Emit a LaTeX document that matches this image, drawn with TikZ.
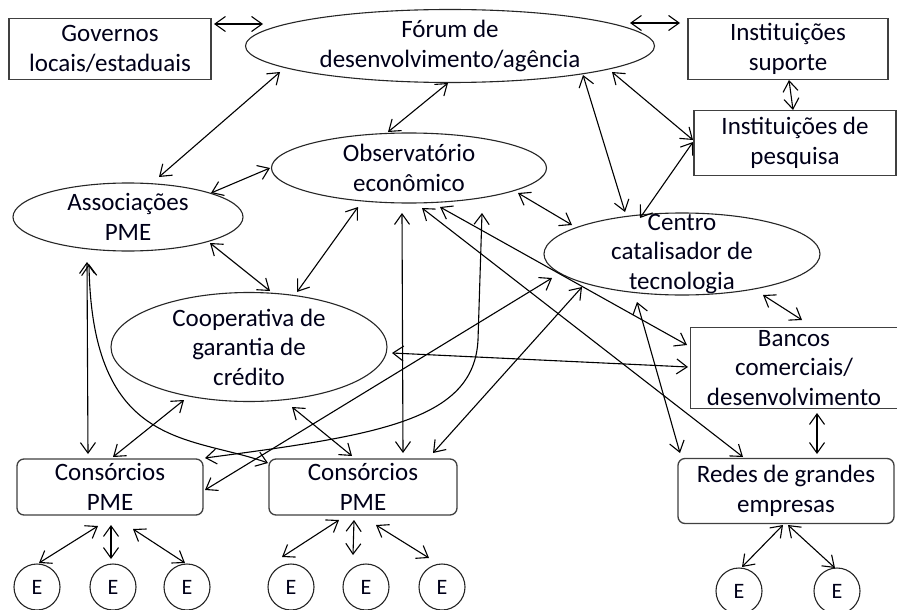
\documentclass[tikz,border=0pt]{standalone}
\usepackage{fontspec}
\setmainfont{Carlito}
\usetikzlibrary{shapes.geometric,arrows.meta}
\begin{document}
\begin{tikzpicture}[x=1pt,y=-1pt,
  lbl/.style={font=\fontsize{25}{29.5}\selectfont, align=center, inner sep=0pt, text=black!90!blue},
  ell/.style={draw=black!85, line width=1.1pt, ellipse, inner sep=0pt},
  box/.style={draw=black!75, line width=1.6pt, rectangle, inner sep=0pt},
  rbox/.style={draw=black!75, line width=1.3pt, rectangle, rounded corners=7pt, inner sep=0pt},
  ecirc/.style={draw=black!85, line width=1.1pt, circle, minimum size=46pt, inner sep=0pt, font=\fontsize{22}{26}\selectfont, text=black!90!blue},
  tip/.tip={Straight Barb[length=10.5pt,width=15pt]},
  link/.style={line width=1.1pt, tip-tip},
]
\fill[white] (0,0) rectangle (897,610);
\useasboundingbox (0,0) rectangle (897,610);

% nodes
\node[box, minimum width=202pt, minimum height=61pt, label={[lbl]center:Governos\\locais/estaduais}] (gov) at (110,49) {};
\node[ell, minimum width=409pt, minimum height=73pt, label={[lbl]center:Fórum de\\desenvolvimento/agência}] (forum) at (450,46) {};
\node[box, minimum width=200pt, minimum height=61pt, label={[lbl]center:Instituições\\suporte}] (sup) at (788,49) {};
\node[box, minimum width=202pt, minimum height=65pt, label={[lbl]center:Instituições de\\pesquisa}] (pesq) at (795,143) {};
\node[ell, minimum width=275pt, minimum height=70pt, label={[lbl]center:Observatório\\econômico}] (obs) at (409,168) {};
\node[ell, minimum width=230pt, minimum height=68pt, label={[lbl]center:Associações\\PME}] (assoc) at (128,217) {};
\node[ell, minimum width=276pt, minimum height=82pt, label={[lbl]center:Centro\\catalisador de\\tecnologia}] (centro) at (682,254) {};
\node[ell, minimum width=276pt, minimum height=109pt, label={[lbl]center:Cooperativa de\\garantia de\\crédito}] (coop) at (249,347) {};
\node[box, minimum width=207pt, minimum height=81pt, label={[lbl]center:Bancos\\comerciais/\\desenvolvimento}] (bancos) at (794,368) {};
\node[rbox, minimum width=186pt, minimum height=56pt, label={[lbl]center:Consórcios\\PME}] (cons1) at (110,487) {};
\node[rbox, minimum width=188pt, minimum height=56pt, label={[lbl]center:Consórcios\\PME}] (cons2) at (363,487) {};
\node[rbox, minimum width=216pt, minimum height=65pt, label={[lbl]center:Redes de grandes\\empresas}] (redes) at (786,491) {};
\node[ecirc] (e1) at (37,587) {E};
\node[ecirc] (e2) at (113,587) {E};
\node[ecirc] (e3) at (187,587) {E};
\node[ecirc] (e4) at (291,587) {E};
\node[ecirc] (e5) at (366,587) {E};
\node[ecirc] (e6) at (442,587) {E};
\node[ecirc] (e7) at (739,591) {E};
\node[ecirc] (e8) at (837,591) {E};

% connectors
\draw[link] ([shift={(104,-25)}]gov.center) -- ([shift={(-187,-22)}]forum.center);
\draw[link] ([shift={(180,-23)}]forum.center) -- ([shift={(-108,-26)}]sup.center);
\draw[link] ([shift={(-170,26)}]forum.center) -- ([shift={(31,-40)}]assoc.center);
\draw[link] ([shift={(-2,37)}]forum.center) -- ([shift={(-21,-36)}]obs.center);
\draw[link] ([shift={(133,29)}]forum.center) -- ([shift={(-57,-42)}]centro.center);
\draw[link] ([shift={(162,26)}]forum.center) -- ([shift={(-102,-3)}]pesq.center);
\draw[link] ([shift={(1,31)}]sup.center) -- ([shift={(-2,-33)}]pesq.center);
\draw[link] ([shift={(-102,-1)}]pesq.center) -- ([shift={(-42,-36)}]centro.center);
\draw[link] ([shift={(-139,0)}]obs.center) -- ([shift={(83,-24)}]assoc.center);
\draw[link] ([shift={(82,26)}]assoc.center) -- ([shift={(21,-56)}]coop.center);
\draw[link] ([shift={(-51,39)}]obs.center) -- ([shift={(48,-55)}]coop.center);
\draw[link] ([shift={(109,25)}]obs.center) -- ([shift={(-110,-29)}]centro.center);
\draw[link] ([shift={(81,41)}]centro.center) -- ([shift={(8,-48)}]bancos.center);
\draw[link] ([shift={(23,45)}]bancos.center) -- ([shift={(31,-37)}]redes.center);
\draw[link] ([shift={(-41,45)}]assoc.center) -- ([shift={(-22,-33)}]cons1.center);
\draw[link] ([shift={(-65,53)}]coop.center) -- ([shift={(3,-30)}]cons1.center);
\draw[link] ([shift={(43,60)}]coop.center) -- ([shift={(-11,-31)}]cons2.center);
\draw[link] ([shift={(-7,45)}]obs.center) -- ([shift={(40,-34)}]cons2.center);
\draw[link] ([shift={(-39,47)}]assoc.center) .. controls (92,450) and (190,435) .. ([shift={(-95,-24)}]cons2.center);
\draw[link] ([shift={(73,45)}]obs.center) -- (478,340) .. controls (474,420) and (380,435) .. ([shift={(95,-29)}]cons1.center);
\draw[link] ([shift={(-130,24)}]centro.center) -- ([shift={(95,3)}]cons1.center);
\draw[link] ([shift={(-100,33)}]centro.center) -- ([shift={(70,-34)}]cons2.center);
\draw[link] ([shift={(13,40)}]obs.center) -- ([shift={(-43,-34)}]redes.center);
\draw[link] ([shift={(31,39)}]obs.center) -- ([shift={(-107,-23)}]bancos.center);
\draw[link] ([shift={(143,6)}]coop.center) -- ([shift={(-106,-1)}]bancos.center);
\draw[link] ([shift={(-45,48)}]centro.center) -- ([shift={(-106,-38)}]redes.center);

\draw[link] ([shift={(-12,39)}]cons1.center) -- ([shift={(2,-24)}]e1.center);
\draw[link] ([shift={(1,38)}]cons1.center) -- ([shift={(-2,-28)}]e2.center);
\draw[link] ([shift={(23,42)}]cons1.center) -- ([shift={(-2,-24)}]e3.center);
\draw[link] ([shift={(-24,33)}]cons2.center) -- ([shift={(-9,-30)}]e4.center);
\draw[link] ([shift={(-9,33)}]cons2.center) -- ([shift={(-13,-32)}]e5.center);
\draw[link] ([shift={(13,38)}]cons2.center) -- ([shift={(-13,-29)}]e6.center);
\draw[link] ([shift={(-3,34)}]redes.center) -- ([shift={(3,-24)}]e7.center);
\draw[link] ([shift={(2,34)}]redes.center) -- ([shift={(-2,-23)}]e8.center);
\end{tikzpicture}
\end{document}
